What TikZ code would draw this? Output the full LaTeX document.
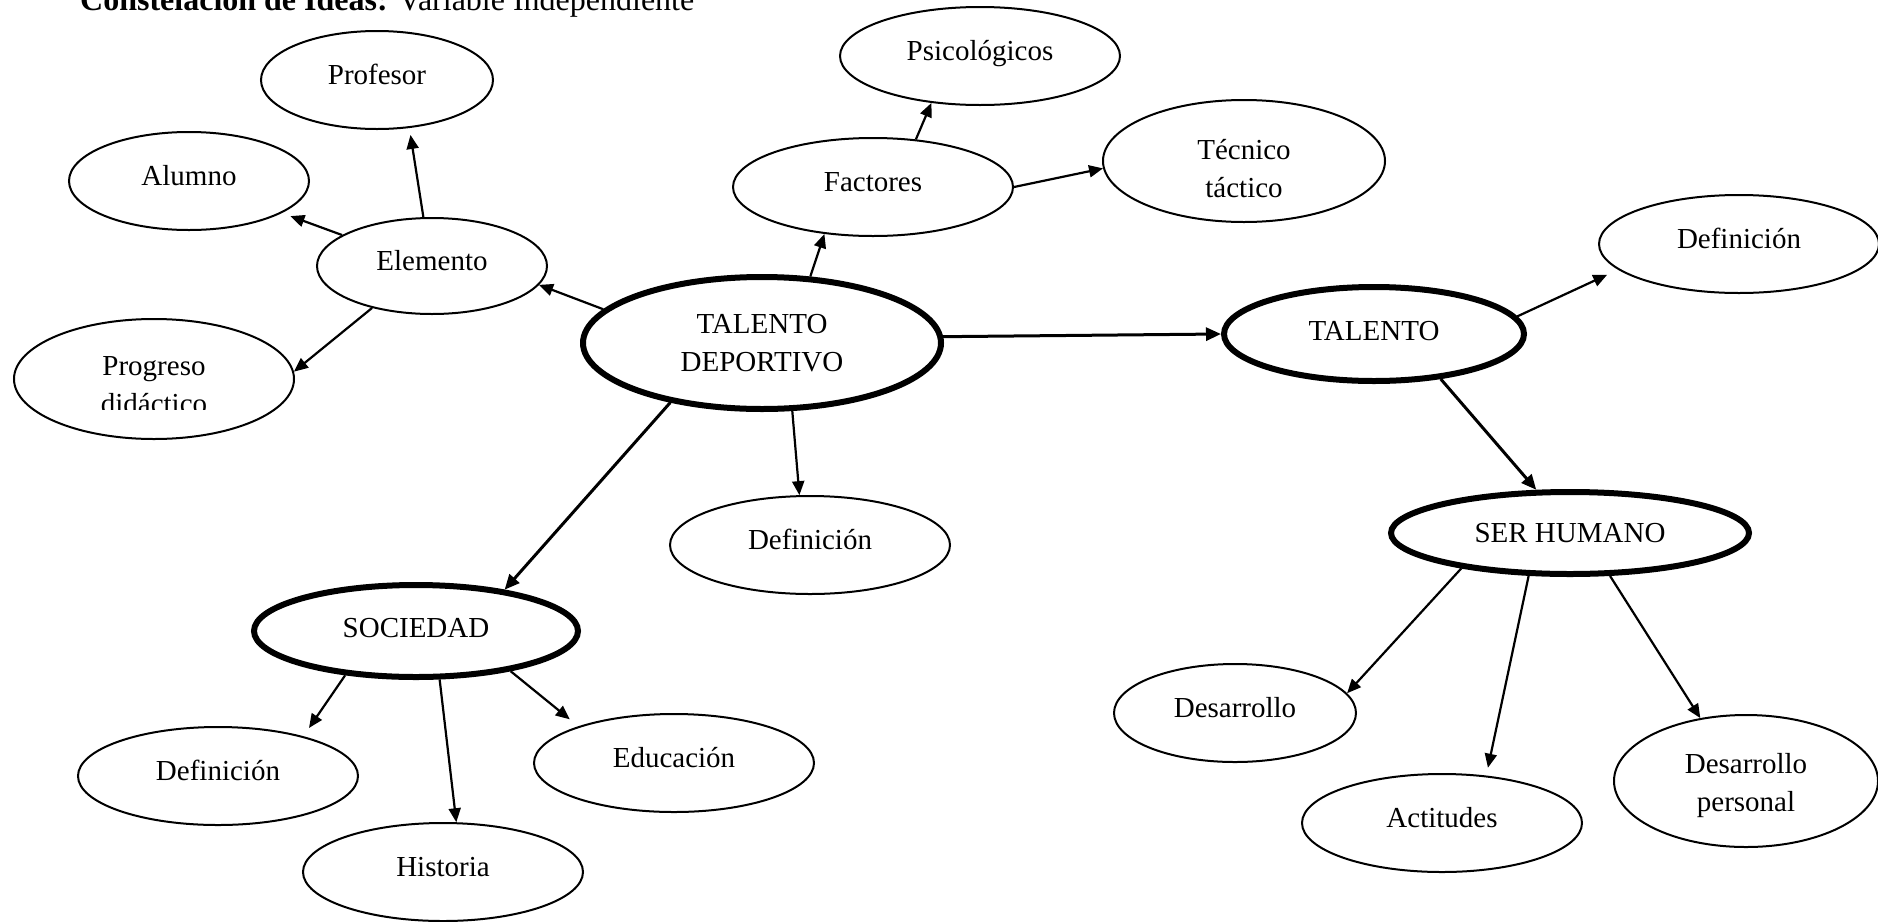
\documentclass[tikz,border=0pt]{standalone}
\usepackage{fontspec}
\setmainfont{Liberation Serif}
\usetikzlibrary{shapes.geometric,arrows.meta,calc}
\begin{document}
\begin{tikzpicture}[x=1pt,y=-1pt,
  font=\fontsize{29}{38}\selectfont,
  ell/.style={draw, ellipse, line width=2pt, inner sep=0pt, text height=20pt, text depth=12pt},
  ell2/.style={draw, ellipse, line width=2pt, inner sep=0pt, align=center},
  boldell/.style={draw, ellipse, line width=6pt, inner sep=0pt},
  arr/.style={line width=2.2pt, -{Triangle[length=14pt,width=12pt]}},
  arrb/.style={line width=3pt, -{Triangle[length=15pt,width=13pt]}},
]
\clip (0,0) rectangle (1878,921);
\node[anchor=base west, inner sep=0pt, font=\fontsize{32}{38}\selectfont] (title) at (80,10) {\textbf{Constelación de Ideas:} Variable Independiente};

\node[ell, minimum width=232pt, minimum height=98pt] (prof) at (377,80) {Profesor};
\node[ell, minimum width=240pt, minimum height=98pt] (alum) at (189,181) {Alumno};
\node[ell, minimum width=230pt, minimum height=96pt] (elem) at (432,266) {Elemento};
\node[ell2, minimum width=280pt, minimum height=120pt] (prog) at (154,379) {\rule{0pt}{31pt}Progreso\\didáctico};
\fill[white] ($(prog.center)+(-70,31)$) rectangle ($(prog.center)+(70,45)$);
\node[boldell, align=center, minimum width=358pt, minimum height=132pt] (td) at (762,343) {TALENTO\\DEPORTIVO};
\node[ell, minimum width=280pt, minimum height=98pt] (fact) at (873,187) {Factores};
\node[ell, minimum width=280pt, minimum height=98pt] (psic) at (980,56) {Psicológicos};
\node[ell2, minimum width=282pt, minimum height=122pt] (tec) at (1244,161) {\rule{0pt}{35pt}Técnico\\táctico};
\node[ell, minimum width=280pt, minimum height=98pt] (def1) at (1739,244) {Definición};
\node[boldell, text height=20pt, text depth=8pt, minimum width=300pt, minimum height=94pt] (tal) at (1374,334) {TALENTO};
\node[boldell, minimum width=358pt, minimum height=82pt] (ser) at (1570,533) {SER HUMANO};
\node[ell, minimum width=280pt, minimum height=98pt] (def2) at (810,545) {Definición};
\node[boldell, text height=20pt, text depth=8pt, minimum width=324pt, minimum height=92pt] (soc) at (416,631) {SOCIEDAD};
\node[ell, minimum width=280pt, minimum height=98pt] (def3) at (218,776) {Definición};
\node[ell, minimum width=280pt, minimum height=98pt] (edu) at (674,763) {Educación};
\node[ell, minimum width=280pt, minimum height=98pt] (hist) at (443,872) {Historia};
\node[ell, minimum width=242pt, minimum height=98pt] (des) at (1235,713) {Desarrollo};
\node[ell, minimum width=280pt, minimum height=98pt] (act) at (1442,823) {Actitudes};
\node[ell2, minimum width=264pt, minimum height=132pt] (desp) at (1746,781) {\rule{0pt}{30pt}Desarrollo\\personal};

\draw[arr] (td.168) -- (elem.-10);
\draw[arr, shorten >=9pt] (elem.161) -- (alum.-19);
\draw[arr, shorten >=7pt] (elem.100) -- (prof.-56);
\draw[arr] (elem.215) -- (prog.3);
\draw[arr] (td.54) -- (fact.224);
\draw[arr] (fact.48) -- (psic.224);
\draw[arr] (fact.0) -- (tec.183);
\draw[arrb] (td.2) -- (tal.180);
\draw[arr, shorten >=12pt] (tal.7) -- (def1.192);
\draw[arrb] (tal.-34) -- (ser.128);
\draw[arrb] (td.213) -- (soc.25);
\draw[arr] (td.-66) -- (def2.102);
\draw[arr, shorten >=10pt] (soc.212) -- (def3.25);
\draw[arr] (soc.-64) -- (hist.75);
\draw[arr, shorten >=11pt] (soc.-23) -- (edu.159);
\draw[arr] (ser.198) -- (des.10);
\draw[arr, shorten >=8pt] (ser.226) -- (act.47);
\draw[arr] (ser.-47) -- (desp.126);
\end{tikzpicture}
\end{document}
